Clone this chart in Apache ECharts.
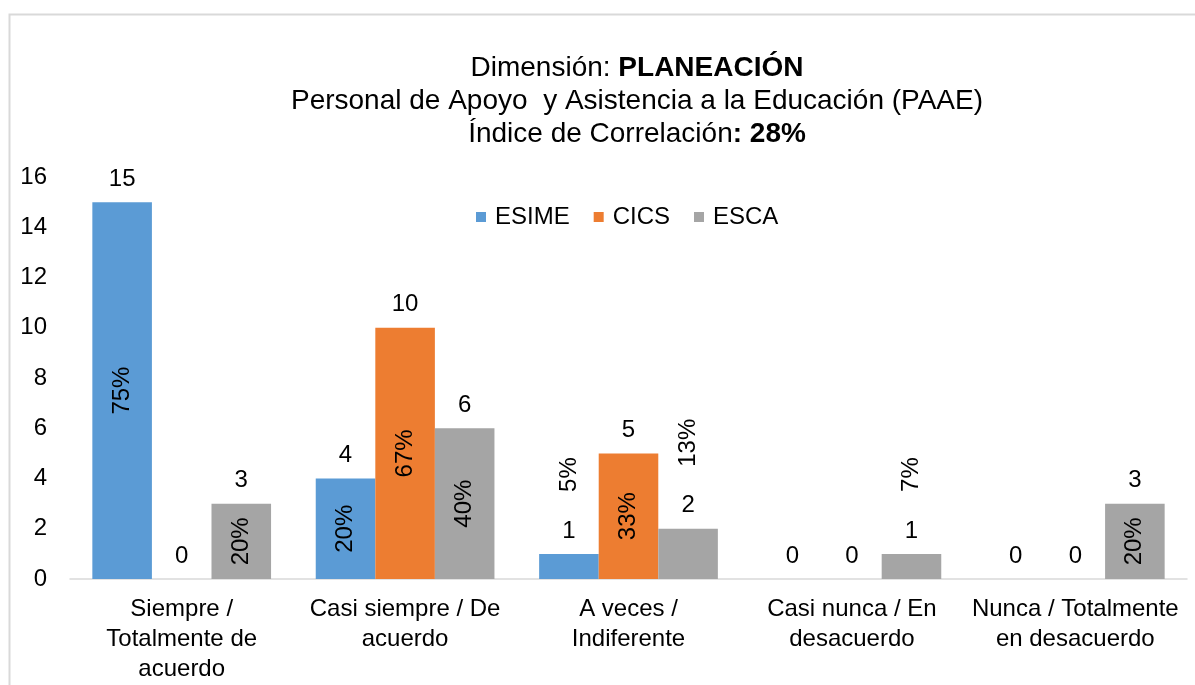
<!DOCTYPE html>
<html>
<head>
<meta charset="utf-8">
<script src="https://cdn.jsdelivr.net/npm/echarts@6/dist/echarts.min.js"></script>
<style>html,body{margin:0;padding:0;background:#fff;}#c{width:1195px;height:685px;}</style>
</head>
<body>
<div id="c"></div>
<script>
var categories = ['Siempre /\nTotalmente de\nacuerdo', 'Casi siempre / De\nacuerdo', 'A veces /\nIndiferente', 'Casi nunca / En\ndesacuerdo', 'Nunca / Totalmente\nen desacuerdo'];
var seriesNames = ['ESIME', 'CICS', 'ESCA'];
var esime = [15, 4, 1, 0, 0];
var cics = [0, 10, 5, 0, 0];
var esca = [3, 6, 2, 1, 3];
var esimePct = [75, 20, 5, 0, 0];
var cicsPct = [0, 67, 33, 0, 0];
var escaPct = [20, 40, 13, 7, 20];
var colors = ['#5B9BD5', '#ED7D31', '#A5A5A5'];

var FONT = '"Liberation Sans", Arial, sans-serif';
var FS = 24;
var values = [esime, cics, esca];
var pcts = [esimePct, cicsPct, escaPct];

var series = [];
values.forEach(function (vals, i) {
  series.push({
    name: seriesNames[i], type: 'bar', xAxisIndex: 0,
    data: vals, barGap: '0%', barCategoryGap: '20%',
    itemStyle: { color: colors[i] },
    label: { show: true, position: 'top', distance: 11, color: '#000', fontSize: FS, fontFamily: FONT }
  });
});
values.forEach(function (vals, i) {
  series.push({
    name: seriesNames[i] + ' %', type: 'bar', xAxisIndex: 1, silent: true,
    barGap: '0%', barCategoryGap: '20%',
    itemStyle: { color: 'rgba(0,0,0,0)' },
    data: vals.map(function (v, j) {
      var p = pcts[i][j];
      var lab;
      if (!p) lab = { show: false };
      else if (v >= 3) lab = { show: true, position: 'inside', rotate: 90 };
      else lab = { show: true, position: 'top', rotate: 90, align: 'left', verticalAlign: 'middle', distance: 62 };
      lab.formatter = p + '%';
      lab.color = '#000'; lab.fontSize = FS; lab.fontFamily = FONT;
      return { value: v, label: lab };
    })
  });
});

var chart = echarts.init(document.getElementById('c'));
chart.setOption({
  animation: false,
  backgroundColor: '#fff',
  textStyle: { fontFamily: FONT },
  graphic: [{ type: 'rect', left: 7, top: 12, shape: { width: 1200, height: 700 }, style: { fill: 'none', stroke: '#d9d9d9', lineWidth: 2 }, z: -1 }],
  title: {
    left: 632, top: 47, textAlign: 'center',
    text: '{a|Dimensión: }{b|PLANEACIÓN}\n{a|Personal de Apoyo  y Asistencia a la Educación (PAAE)}\n{a|Índice de Correlación}{b|: 28%}',
    textStyle: {
      fontWeight: 'normal',
      rich: {
        a: { fontSize: 28, fontFamily: FONT, color: '#000', fontWeight: 'normal', lineHeight: 33 },
        b: { fontSize: 28, fontFamily: FONT, color: '#000', fontWeight: 'bold', lineHeight: 33 }
      }
    }
  },
  legend: {
    data: seriesNames, left: 471, top: 200, icon: 'rect', itemWidth: 10, itemHeight: 10, itemGap: 24,
    textStyle: { fontSize: FS, fontFamily: FONT, color: '#000', padding: [0, 0, 0, 4] }
  },
  grid: { left: 70, right: 8, top: 177, bottom: 106, containLabel: false },
  xAxis: [{
    type: 'category', data: categories,
    axisLine: { lineStyle: { color: '#d9d9d9', width: 1.5 } },
    axisTick: { show: false },
    axisLabel: { interval: 0, fontSize: FS, fontFamily: FONT, color: '#000', lineHeight: 30, margin: 15 }
  }, {
    type: 'category', data: categories, show: false, position: 'bottom'
  }],
  yAxis: {
    type: 'value', min: 0, max: 16, interval: 2,
    axisLine: { show: false }, axisTick: { show: false }, splitLine: { show: false },
    axisLabel: { fontSize: FS, fontFamily: FONT, color: '#000', margin: 23 }
  },
  series: series
});
</script>
</body>
</html>
